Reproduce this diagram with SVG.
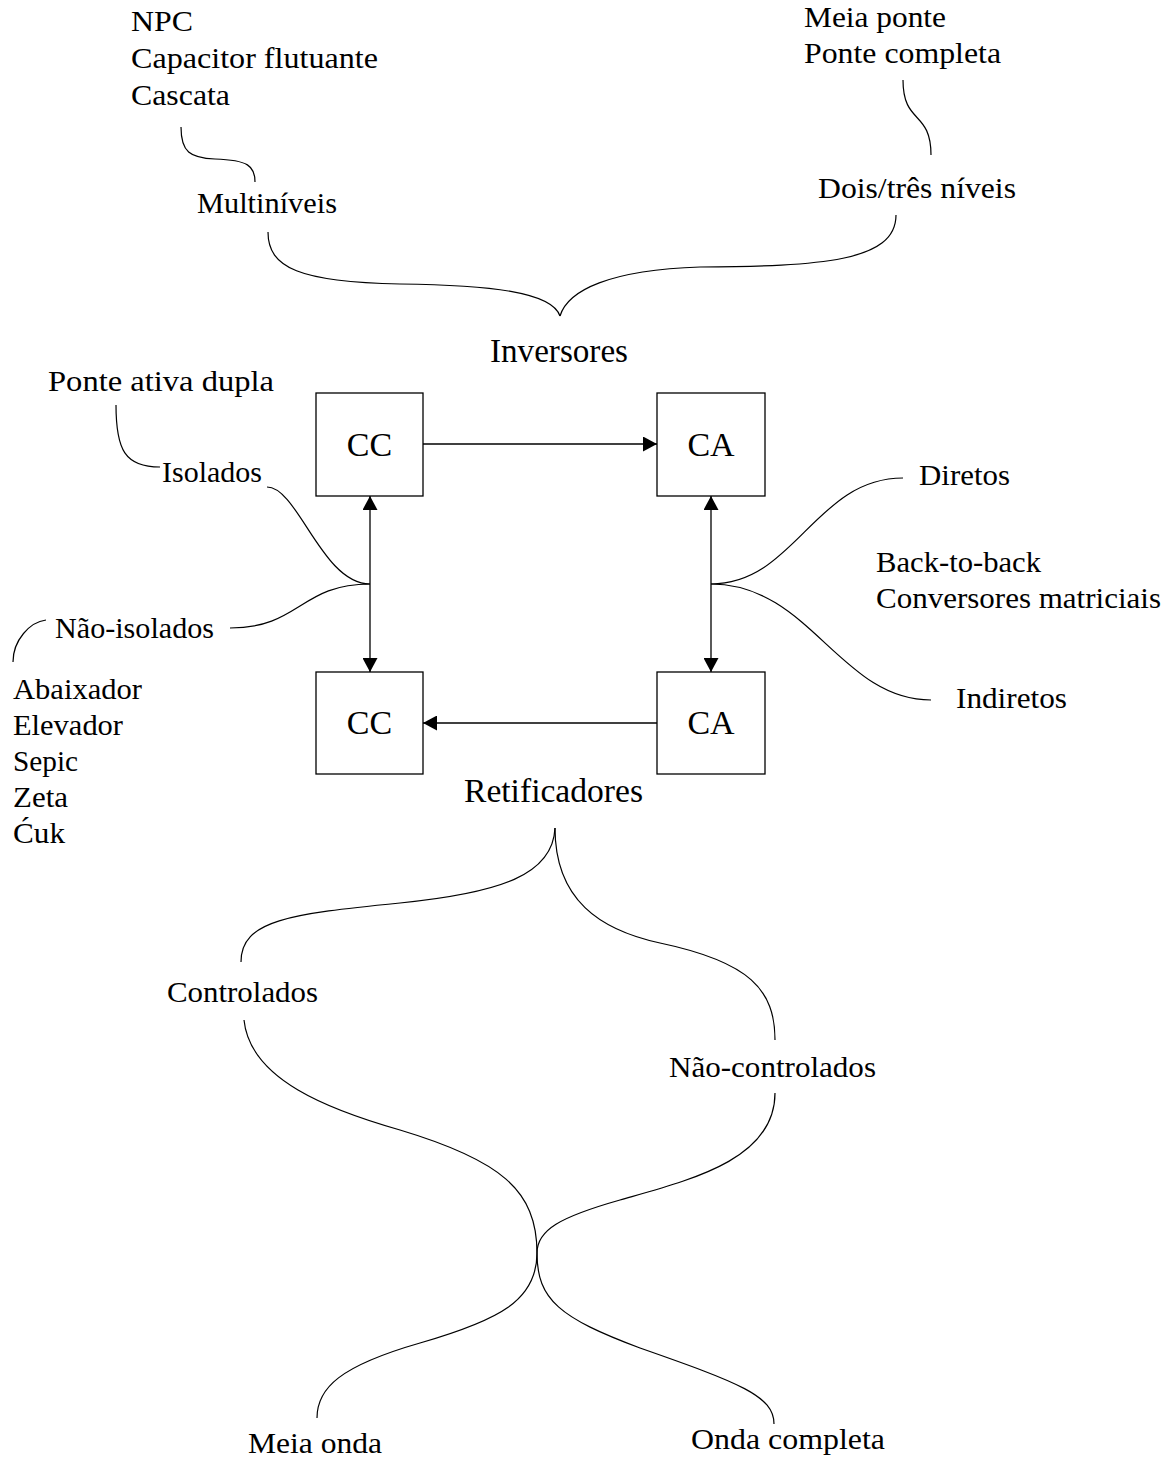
<svg xmlns="http://www.w3.org/2000/svg" width="1171" height="1459" viewBox="0 0 1171 1459">
<style>
text{font-family:"Liberation Serif","Times New Roman",serif;font-size:29px;fill:#000}
.big{font-size:34px}
.box{fill:#fff;stroke:#000;stroke-width:1.3}
.c{fill:none;stroke:#000;stroke-width:1.2}
.arr{fill:none;stroke:#000;stroke-width:1.3}
</style>
<defs>
<marker id="ah" viewBox="0 0 14 15" refX="14" refY="7.5" markerWidth="14" markerHeight="15" markerUnits="userSpaceOnUse" orient="auto-start-reverse">
<path d="M0,0 L14,7.5 L0,15 Z" fill="#000"/>
</marker>
</defs>
<rect width="1171" height="1459" fill="#fff"/>

<g id="connectors">
<line class="arr" x1="423" y1="444" x2="657" y2="444" marker-end="url(#ah)"/>
<line class="arr" x1="657" y1="723" x2="423" y2="723" marker-end="url(#ah)"/>
<line class="arr" x1="370" y1="496" x2="370" y2="672" marker-start="url(#ah)" marker-end="url(#ah)"/>
<line class="arr" x1="711" y1="496" x2="711" y2="672" marker-start="url(#ah)" marker-end="url(#ah)"/>
<path class="c" d="M181,127 C181,152 190,158 215,159 C248,160 255,166 255,182"/>
<path class="c" d="M903,80 C903,125 931,110 931,155"/>
<path class="c" d="M268,232 C268,268 300,282 400,284 C490,285 552,292 560,316"/>
<path class="c" d="M560,316 C568,290 610,270 700,267 C820,266 896,262 896,215"/>
<path class="c" d="M116,405 C116,450 125,467 160,467"/>
<path class="c" d="M267,487 C298,487 322,584 370,584"/>
<path class="c" d="M230,628 C300,628 300,584 370,584"/>
<path class="c" d="M46,620 C30,622 13,640 13,662"/>
<path class="c" d="M711,584 C795,584 815,478 903,478"/>
<path class="c" d="M711,584 C810,584 840,700 931,700"/>
<path class="c" d="M555,828 C553,875 500,893 400,903 C290,914 241,920 241,962"/>
<path class="c" d="M555,828 C555,900 600,930 660,943 C750,962 775,990 775,1040"/>
<path class="c" d="M244,1020 C250,1080 330,1110 400,1130 C500,1160 537,1190 537,1253"/>
<path class="c" d="M775,1093 C775,1160 690,1180 620,1200 C560,1217 537,1230 537,1253"/>
<path class="c" d="M537,1253 C537,1300 560,1318 640,1348 C740,1383 774,1396 774,1424"/>
<path class="c" d="M537,1253 C537,1300 500,1320 420,1343 C340,1366 317,1388 317,1418"/>
</g>

<g id="node-cc-top"><rect class="box" x="316" y="393" width="107" height="103"/><text class="big" x="369.5" y="456" text-anchor="middle">CC</text></g>
<g id="node-ca-top"><rect class="box" x="657" y="393" width="108" height="103"/><text class="big" x="711" y="456" text-anchor="middle">CA</text></g>
<g id="node-cc-bottom"><rect class="box" x="316" y="672" width="107" height="102"/><text class="big" x="369.5" y="734" text-anchor="middle">CC</text></g>
<g id="node-ca-bottom"><rect class="box" x="657" y="672" width="108" height="102"/><text class="big" x="711" y="734" text-anchor="middle">CA</text></g>

<g id="label-multinivel-list">
<text x="131" y="31" textLength="62" lengthAdjust="spacingAndGlyphs">NPC</text>
<text x="131" y="68" textLength="247" lengthAdjust="spacingAndGlyphs">Capacitor flutuante</text>
<text x="131" y="105" textLength="99" lengthAdjust="spacingAndGlyphs">Cascata</text>
</g>
<g id="label-multiniveis"><text x="197" y="213" textLength="140" lengthAdjust="spacingAndGlyphs">Multiníveis</text></g>
<g id="label-ponte-list">
<text x="804" y="27" textLength="142" lengthAdjust="spacingAndGlyphs">Meia ponte</text>
<text x="804" y="63" textLength="197" lengthAdjust="spacingAndGlyphs">Ponte completa</text>
</g>
<g id="label-dois-tres"><text x="818" y="198" textLength="198" lengthAdjust="spacingAndGlyphs">Dois/três níveis</text></g>
<g id="label-inversores"><text class="big" x="490" y="362" textLength="138" lengthAdjust="spacingAndGlyphs">Inversores</text></g>
<g id="label-ponte-ativa"><text x="48" y="391" textLength="226" lengthAdjust="spacingAndGlyphs">Ponte ativa dupla</text></g>
<g id="label-isolados"><text x="162" y="482" textLength="100" lengthAdjust="spacingAndGlyphs">Isolados</text></g>
<g id="label-nao-isolados"><text x="55" y="638" textLength="159" lengthAdjust="spacingAndGlyphs">Não-isolados</text></g>
<g id="label-nao-isolados-list">
<text x="13" y="699" textLength="129" lengthAdjust="spacingAndGlyphs">Abaixador</text>
<text x="13" y="735" textLength="110" lengthAdjust="spacingAndGlyphs">Elevador</text>
<text x="13" y="771" textLength="65" lengthAdjust="spacingAndGlyphs">Sepic</text>
<text x="13" y="807" textLength="55" lengthAdjust="spacingAndGlyphs">Zeta</text>
<text x="13" y="843" textLength="52" lengthAdjust="spacingAndGlyphs">Ćuk</text>
</g>
<g id="label-diretos"><text x="919" y="485" textLength="91" lengthAdjust="spacingAndGlyphs">Diretos</text></g>
<g id="label-diretos-list">
<text x="876" y="572" textLength="165" lengthAdjust="spacingAndGlyphs">Back-to-back</text>
<text x="876" y="608" textLength="285" lengthAdjust="spacingAndGlyphs">Conversores matriciais</text>
</g>
<g id="label-indiretos"><text x="956" y="708" textLength="111" lengthAdjust="spacingAndGlyphs">Indiretos</text></g>
<g id="label-retificadores"><text class="big" x="464" y="802" textLength="179" lengthAdjust="spacingAndGlyphs">Retificadores</text></g>
<g id="label-controlados"><text x="167" y="1002" textLength="151" lengthAdjust="spacingAndGlyphs">Controlados</text></g>
<g id="label-nao-controlados"><text x="669" y="1077" textLength="207" lengthAdjust="spacingAndGlyphs">Não-controlados</text></g>
<g id="label-meia-onda"><text x="248" y="1453" textLength="134" lengthAdjust="spacingAndGlyphs">Meia onda</text></g>
<g id="label-onda-completa"><text x="691" y="1449" textLength="194" lengthAdjust="spacingAndGlyphs">Onda completa</text></g>
</svg>
